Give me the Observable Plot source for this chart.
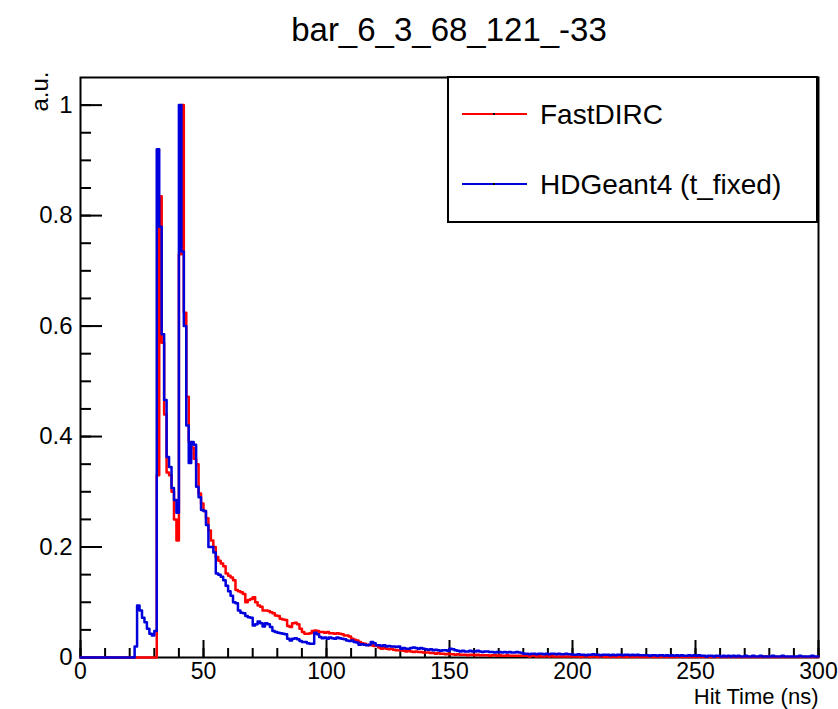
<!DOCTYPE html>
<html>
<head>
<meta charset="utf-8">
<script src="https://cdn.jsdelivr.net/npm/d3@7"></script>
<script src="https://cdn.jsdelivr.net/npm/@observablehq/plot@0.6"></script>
<style>
  body { margin: 0; background: #fff; }
  #wrap { position: relative; width: 838px; height: 709px; overflow: hidden; font-family: "Liberation Sans", Arial, Helvetica, sans-serif; color: #000; background: #fff; }
  #title { height: 60px; line-height: 60px; margin-left: 80px; width: 738px; text-align: center; font-size: 33px; white-space: nowrap; }
  #legend { position: absolute; left: 447px; top: 76px; width: 367px; height: 143px; border: 2px solid #000; background: #fff; }
  .lgline { position: absolute; left: 13px; width: 65px; height: 2px; }
  .lgdot { position: absolute; left: 44px; width: 2px; height: 2px; background: #000; }
  .lgtext { position: absolute; left: 91px; height: 40px; line-height: 40px; font-size: 28px; white-space: nowrap; }
  svg { display: block; }
</style>
</head>
<body>
<div id="wrap">
  <div id="title"></div>
  <div id="chart"></div>
  <div id="legend"></div>
</div>
<script>
// ---- data (1 ns bins from 0 to 300 ns) ----
const title = "bar_6_3_68_121_-33";
const xLabel = "Hit Time (ns)";
const yLabel = "a.u.";
const seriesNames = ["FastDIRC", "HDGeant4 (t_fixed)"];
const seriesColors = ["#ff0000", "#0000dd"];
const binStart = 0;
const binWidth = 1;

const fastDIRC = [
  0,0,0,0,0,0,0,0,0,0,
  0,0,0,0,0,0,0,0,0,0,
  0,0,0,0,0,0,0,0,0,0,
  0,0.33,0.835,0.57,0.44,0.335,0.33,0.30,0.25,0.212,
  0.73,1.0,0.624,0.472,0.39,0.38,0.36,0.35,0.297,0.279,
  0.265,0.252,0.23,0.212,0.2,0.182,0.175,0.17,0.165,0.152,
  0.148,0.145,0.14,0.122,0.12,0.118,0.115,0.1,0.104,0.106,
  0.109,0.1,0.094,0.092,0.085,0.085,0.084,0.082,0.08,0.076,
  0.075,0.07,0.069,0.068,0.057,0.055,0.062,0.063,0.06,0.052,
  0.046,0.043,0.043,0.044,0.048,0.049,0.048,0.046,0.046,0.045,
  0.046,0.044,0.044,0.043,0.044,0.043,0.042,0.04,0.04,0.038,
  0.034,0.032,0.031,0.028,0.026,0.025,0.023,0.022,0.022,0.021,
  0.022,0.018,0.016,0.017,0.016,0.015,0.016,0.014,0.013,0.013,
  0.013,0.012,0.011,0.012,0.011,0.01,0.011,0.01,0.01,0.009,
  0.009,0.009,0.008,0.008,0.007,0.008,0.007,0.007,0.006,0.007,
  0.006,0.006,0.005,0.006,0.005,0.005,0.005,0.004,0.005,0.005,
  0.004,0.005,0.004,0.004,0.004,0.004,0.003,0.004,0.004,0.003,
  0.004,0.003,0.003,0.004,0.003,0.003,0.003,0.003,0.003,0.003,
  0.003,0.003,0.002,0.003,0.003,0.002,0.003,0.002,0.002,0.003,
  0.002,0.003,0.002,0.002,0.002,0.002,0.002,0.002,0.002,0.002,
  0.002,0.002,0.002,0.001,0.002,0.002,0.002,0.001,0.002,0.002,
  0.001,0.002,0.002,0.001,0.002,0.001,0.002,0.001,0.001,0.002,
  0.001,0.001,0.002,0.001,0.001,0.001,0.002,0.001,0.001,0.001,
  0.001,0.002,0.001,0.001,0.001,0.001,0.002,0.001,0.001,0.001,
  0.001,0.001,0.001,0.002,0.001,0.001,0.001,0.001,0.001,0.001,
  0.001,0.001,0.002,0.001,0.001,0.001,0.001,0.001,0.001,0.001,
  0.001,0.001,0.001,0.001,0.001,0.002,0.001,0.001,0.001,0.001,
  0.001,0.001,0.001,0.001,0.001,0.001,0.001,0.001,0.002,0.001,
  0.001,0.001,0.001,0.001,0.001,0.001,0.001,0.001,0.001,0.001,
  0.001,0.001,0.001,0.001,0.001,0.001,0.001,0.001,0.001,0.001
];

const hdGeant4 = [
  0,0,0,0,0,0,0,0,0,0,
  0,0,0,0,0,0,0,0,0,0,
  0,0,0.02,0.094,0.085,0.072,0.064,0.052,0.043,0.04,
  0.048,0.92,0.78,0.585,0.466,0.363,0.345,0.307,0.285,0.262,
  1.0,0.735,0.6,0.42,0.352,0.39,0.385,0.309,0.29,0.267,
  0.265,0.24,0.2,0.2,0.19,0.152,0.15,0.146,0.14,0.13,
  0.12,0.112,0.1,0.098,0.085,0.081,0.08,0.075,0.073,0.072,
  0.058,0.06,0.065,0.062,0.056,0.062,0.06,0.055,0.048,0.046,
  0.045,0.044,0.043,0.042,0.034,0.031,0.034,0.035,0.033,0.03,
  0.028,0.028,0.026,0.025,0.025,0.045,0.042,0.037,0.035,0.036,
  0.034,0.036,0.035,0.034,0.036,0.035,0.034,0.033,0.031,0.03,
  0.031,0.028,0.027,0.023,0.024,0.023,0.022,0.023,0.028,0.026,
  0.022,0.022,0.021,0.022,0.02,0.021,0.02,0.02,0.019,0.02,
  0.016,0.017,0.016,0.016,0.017,0.018,0.017,0.016,0.017,0.016,
  0.015,0.014,0.015,0.013,0.014,0.013,0.012,0.013,0.013,0.012,
  0.016,0.015,0.013,0.012,0.011,0.012,0.011,0.011,0.012,0.011,
  0.011,0.012,0.011,0.01,0.011,0.011,0.01,0.01,0.009,0.01,
  0.01,0.009,0.01,0.009,0.01,0.009,0.009,0.01,0.009,0.008,
  0.007,0.007,0.006,0.007,0.007,0.006,0.007,0.007,0.006,0.007,
  0.006,0.007,0.007,0.006,0.007,0.006,0.006,0.007,0.006,0.006,
  0.005,0.005,0.006,0.005,0.005,0.004,0.005,0.005,0.006,0.005,
  0.005,0.004,0.005,0.005,0.005,0.004,0.005,0.004,0.005,0.005,
  0.004,0.005,0.005,0.004,0.005,0.004,0.005,0.004,0.004,0.004,
  0.004,0.003,0.004,0.004,0.003,0.004,0.004,0.003,0.004,0.003,
  0.004,0.003,0.004,0.003,0.004,0.003,0.003,0.004,0.003,0.004,
  0.003,0.004,0.003,0.003,0.002,0.003,0.003,0.002,0.003,0.003,
  0.002,0.003,0.002,0.003,0.002,0.003,0.002,0.003,0.002,0.002,
  0.003,0.002,0.002,0.003,0.002,0.002,0.003,0.002,0.002,0.002,
  0.002,0.003,0.002,0.002,0.002,0.003,0.002,0.002,0.002,0.002,
  0.002,0.002,0.003,0.002,0.002,0.002,0.002,0.003,0.002,0.002
];

const xDomain = [0, 300];
const yDomain = [0, 1.05];
const xMajorTicks = [0, 50, 100, 150, 200, 250, 300];
const xMinorTicks = d3.range(0, 301, 10);
const yMajorTicks = [0, 0.2, 0.4, 0.6, 0.8, 1];
const yMinorTicks = d3.range(0, 21).map(i => i * 0.05);

// step outline points: one per bin edge
function stepPoints(vals, name) {
  const pts = vals.map((v, i) => ({t: binStart + i * binWidth, v, name}));
  pts.push({t: binStart + vals.length * binWidth, v: vals[vals.length - 1], name});
  return pts;
}
const redPts = stepPoints(fastDIRC, seriesNames[0]);
const bluePts = stepPoints(hdGeant4, seriesNames[1]);

document.getElementById("title").textContent = title;

const font = "'Liberation Sans', Arial, Helvetica, sans-serif";
const chart = Plot.plot({
  width: 838,
  height: 649,
  marginTop: 17,
  marginLeft: 80,
  marginRight: 20,
  marginBottom: 52,
  x: {domain: xDomain},
  y: {domain: yDomain},
  style: {fontFamily: font, fontSize: "24px", color: "#000", background: "#fff", overflow: "visible"},
  marks: [
    Plot.frame({stroke: "#000", strokeWidth: 2}),
    Plot.axisX(xMinorTicks, {tickSize: 9, dy: -9, fill: "none", label: null, stroke: "#000", strokeWidth: 2}),
    Plot.axisX(xMajorTicks, {tickSize: 17, dy: -17, fill: "none", label: null, stroke: "#000", strokeWidth: 2}),
    Plot.axisX(xMajorTicks, {tickSize: 0, tickPadding: 5, label: null, fill: "#000", fontSize: 23, tickFormat: d => String(d)}),
    Plot.axisY(yMinorTicks, {tickSize: 11, dx: 11, fill: "none", label: null, stroke: "#000", strokeWidth: 2}),
    Plot.axisY(yMajorTicks, {tickSize: 22, dx: 22, fill: "none", label: null, stroke: "#000", strokeWidth: 2}),
    Plot.axisY(yMajorTicks, {tickSize: 0, tickPadding: 8, label: null, fill: "#000", fontSize: 24, tickFormat: d => String(d)}),
    Plot.line(redPts, {x: "t", y: "v", curve: "step-after", stroke: seriesColors[0], strokeWidth: 2.5}),
    Plot.line(bluePts, {x: "t", y: "v", curve: "step-after", stroke: seriesColors[1], strokeWidth: 2.5}),
    Plot.text([xLabel], {frameAnchor: "bottom-right", dy: 31, lineAnchor: "top", textAnchor: "end", fontSize: 22, fill: "#000"}),
    Plot.text([yLabel], {frameAnchor: "top-left", rotate: -90, dx: -50, dy: -6, textAnchor: "end", fontSize: 24, fill: "#000"})
  ]
});
document.getElementById("chart").appendChild(chart);

// legend
const legend = document.getElementById("legend");
const rowsTop = [17, 87];
seriesNames.forEach((name, i) => {
  const line = document.createElement("div");
  line.className = "lgline";
  line.style.top = (rowsTop[i] + 18) + "px";
  line.style.background = seriesColors[i];
  legend.appendChild(line);
  const dot = document.createElement("div");
  dot.className = "lgdot";
  dot.style.top = (rowsTop[i] + 18) + "px";
  legend.appendChild(dot);
  const txt = document.createElement("div");
  txt.className = "lgtext";
  txt.style.top = rowsTop[i] + "px";
  txt.textContent = name;
  legend.appendChild(txt);
});
</script>
</body>
</html>
